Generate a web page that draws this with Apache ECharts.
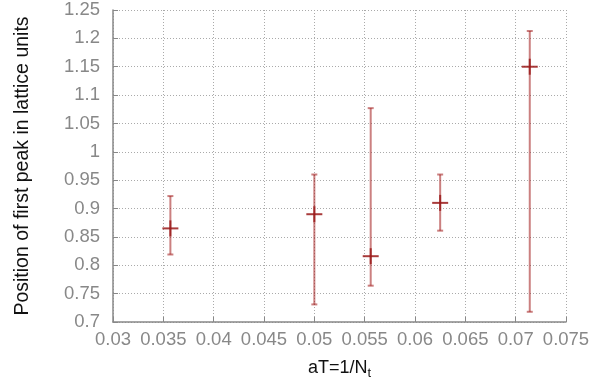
<!DOCTYPE html>
<html>
<head>
<meta charset="utf-8">
<script src="https://cdn.jsdelivr.net/npm/echarts@6/dist/echarts.min.js"></script>
<style>
html,body{margin:0;padding:0;background:#fff;}
#chart{width:596px;height:390px;}
</style>
</head>
<body>
<div id="chart"></div>
<script>
// Data
var xValues = [0.0357, 0.05, 0.0556, 0.0625, 0.0714];
var yValues = [0.865, 0.890, 0.816, 0.910, 1.150];
var yLow    = [0.819, 0.731, 0.764, 0.861, 0.718];
var yHigh   = [0.922, 0.960, 1.077, 0.960, 1.213];
var xTickLabels = ['0.03','0.035','0.04','0.045','0.05','0.055','0.06','0.065','0.07','0.075'];
var yTickLabels = ['0.7','0.75','0.8','0.85','0.9','0.95','1','1.05','1.1','1.15','1.2','1.25'];

var data = xValues.map(function (x, i) { return [x, yValues[i], yLow[i], yHigh[i]]; });

var chart = echarts.init(document.getElementById('chart'));
var font = '"Liberation Sans", Arial, sans-serif';

function renderItem(params, api) {
  var x = api.value(0);
  var p = api.coord([x, api.value(1)]);
  var lo = api.coord([x, api.value(2)]);
  var hi = api.coord([x, api.value(3)]);
  var barStyle = { stroke: '#a01818', lineWidth: 2, opacity: 0.55 };
  var crossStyle = { stroke: '#9a1a1a', lineWidth: 2, opacity: 0.85 };
  var cap = 3;
  var m = 8;
  return {
    type: 'group',
    children: [
      { type: 'line', shape: { x1: lo[0], y1: lo[1], x2: hi[0], y2: hi[1] }, style: barStyle },
      { type: 'line', shape: { x1: hi[0] - cap, y1: hi[1], x2: hi[0] + cap, y2: hi[1] }, style: barStyle },
      { type: 'line', shape: { x1: lo[0] - cap, y1: lo[1], x2: lo[0] + cap, y2: lo[1] }, style: barStyle },
      { type: 'line', shape: { x1: p[0] - m, y1: p[1], x2: p[0] + m, y2: p[1] }, style: crossStyle },
      { type: 'line', shape: { x1: p[0], y1: p[1] - m, x2: p[0], y2: p[1] + m }, style: crossStyle }
    ]
  };
}

var option = {
  animation: false,
  backgroundColor: '#ffffff',
  grid: { left: 113, right: 30, top: 10, bottom: 68, show: false },
  xAxis: {
    type: 'value',
    min: 0.03, max: 0.075, interval: 0.005,
    name: '{a|aT=1/N}{s|t}',
    nameLocation: 'middle',
    nameGap: 34,
    nameTextStyle: {
      rich: {
        a: { fontFamily: font, fontSize: 18, color: '#111' },
        s: { fontFamily: font, fontSize: 13, color: '#111', padding: [11, 0, 0, 0] }
      }
    },
    axisLine: { show: true, onZero: false, lineStyle: { color: '#888', width: 1.5 } },
    axisTick: { show: true, inside: true, length: 5, lineStyle: { color: '#888', width: 1 } },
    splitLine: { show: true, lineStyle: { color: '#aaa', type: [1, 2], width: 1 } },
    axisLabel: {
      fontFamily: font, fontSize: 18.5, color: '#888', margin: 8,
      formatter: function (v) {
        var i = Math.round((v - 0.03) / 0.005);
        return xTickLabels[i];
      }
    }
  },
  yAxis: {
    type: 'value',
    min: 0.7, max: 1.25, interval: 0.05,
    name: 'Position of first peak in lattice units',
    nameLocation: 'middle',
    nameGap: 80,
    nameTextStyle: { fontFamily: font, fontSize: 19.5, color: '#111' },
    axisLine: { show: true, onZero: false, lineStyle: { color: '#888', width: 1.5 } },
    axisTick: { show: true, inside: true, length: 5, lineStyle: { color: '#888', width: 1 } },
    splitLine: { show: true, lineStyle: { color: '#aaa', type: [1, 2], width: 1 } },
    axisLabel: {
      fontFamily: font, fontSize: 18.5, color: '#888', margin: 13,
      formatter: function (v) {
        var i = Math.round((v - 0.7) / 0.05);
        return yTickLabels[i];
      }
    }
  },
  series: [{
    type: 'custom',
    renderItem: renderItem,
    encode: { x: 0, y: [1, 2, 3] },
    data: data,
    clip: false
  }]
};
chart.setOption(option);
</script>
</body>
</html>
